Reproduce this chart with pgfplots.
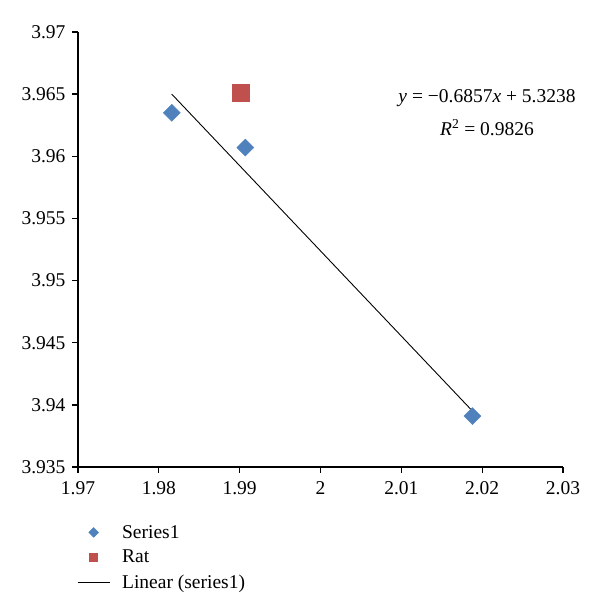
\documentclass[border=0pt]{standalone}
\usepackage{fontspec}
\setmainfont{Liberation Serif}
\usepackage{pgfplots}
\pgfplotsset{compat=1.18}
\usetikzlibrary{calc}

\definecolor{serblue}{HTML}{4F81BD}
\definecolor{ratred}{HTML}{C0504D}

\begin{document}
\begin{tikzpicture}[font=\fontsize{19.5}{23}\selectfont]
\begin{axis}[
  scale only axis,
  width=485pt, height=435pt,
  xmin=1.97, xmax=2.03,
  ymin=3.935, ymax=3.97,
  xtick={1.97,1.98,...,2.031},
  ytick={3.935,3.94,3.945,3.95,3.955,3.96,3.965,3.97},
  axis x line*=bottom,
  axis y line*=left,
  axis line style={line width=1.3pt, -},
  tick style={line width=1.3pt, black},
  major tick length=6pt,
  tick align=outside,
  /pgf/number format/fixed,
  /pgf/number format/precision=3,
  /pgf/number format/assume math mode=true,
  tick label style={font=\fontsize{19.5}{23}\selectfont},
  xticklabel style={yshift=-5pt},
  yticklabel style={xshift=-3pt},
  clip=false,
  legend cell align=left,
  legend style={at={(0,0)}, anchor=north west, xshift=-4pt, yshift=-54pt,
    draw=none, fill=none, row sep=6.5pt,
    font=\fontsize{19.5}{23}\selectfont},
]
\addplot[only marks, mark=square*, mark size=6pt, mark options={rotate=45, fill=serblue, draw=serblue},
  legend image code/.code={\draw[fill=serblue, draw=serblue, rotate around={45:(16pt,0)}] (12.5pt,-3.5pt) rectangle (19.5pt,3.5pt);}]
  coordinates {(1.9816,3.9635) (1.9907,3.9607) (2.0188,3.9391)};
\addlegendentry{\hspace*{10pt}Series1}
\addplot[only marks, mark=square*, mark size=8.5pt, mark options={fill=ratred, draw=ratred},
  legend image code/.code={\draw[fill=ratred, draw=ratred] (12pt,-4pt) rectangle (20pt,4pt);}]
  coordinates {(1.9901,3.9651)};
\addlegendentry{\hspace*{10pt}Rat}
\addplot[black, line width=0.9pt, no marks,
  legend image code/.code={\draw[black, line width=0.9pt] (0pt,0pt) -- (32pt,0pt);}]
  coordinates {(1.9816,3.9650) (2.0188,3.9395)};
\addlegendentry{\hspace*{10pt}Linear (series1)}
\node at (axis cs:2.0206,3.9647) {\textit{y} = −0.6857\textit{x} + 5.3238};
\node at (axis cs:2.0206,3.9623) {\textit{R}\textsuperscript{2} = 0.9826};
\end{axis}
\useasboundingbox ($(current axis.south west)+(-78pt,-149pt)$) rectangle ($(current axis.north east)+(37pt,32pt)$);
\end{tikzpicture}
\end{document}
